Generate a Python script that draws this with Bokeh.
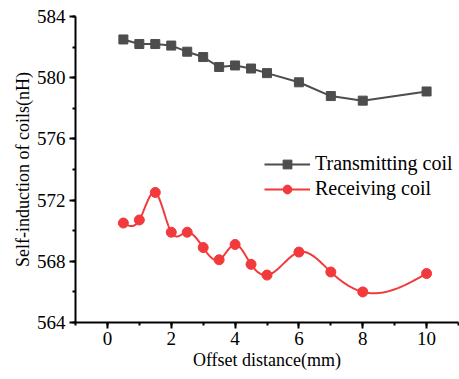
import numpy as np
from bokeh.plotting import figure
from bokeh.models import SingleIntervalTicker, Legend, LegendItem, Range1d
from bokeh.embed import file_html
from bokeh.resources import INLINE

offset = [0.5, 1, 1.5, 2, 2.5, 3, 3.5, 4, 4.5, 5, 6, 7, 8, 10]
transmitting = [582.5, 582.2, 582.2, 582.1, 581.7, 581.35, 580.7, 580.8, 580.6, 580.3, 579.7, 578.8, 578.5, 579.1]
receiving = [570.5, 570.7, 572.5, 569.9, 569.9, 568.9, 568.1, 569.1, 567.8, 567.1, 568.6, 567.3, 566.0, 567.2]

GREY = "#4d4d4d"
RED = "#f2393c"
FONT = "Liberation Serif"


def natural_spline(x, y, n=400):
    x = np.asarray(x, float)
    y = np.asarray(y, float)
    m = len(x)
    h = np.diff(x)
    A = np.zeros((m, m))
    b = np.zeros(m)
    A[0, 0] = 1
    A[-1, -1] = 1
    for i in range(1, m - 1):
        A[i, i - 1] = h[i - 1]
        A[i, i] = 2 * (h[i - 1] + h[i])
        A[i, i + 1] = h[i]
        b[i] = 3 * ((y[i + 1] - y[i]) / h[i] - (y[i] - y[i - 1]) / h[i - 1])
    c = np.linalg.solve(A, b)
    xs = np.linspace(x[0], x[-1], n)
    ys = np.empty_like(xs)
    for k, xv in enumerate(xs):
        i = min(np.searchsorted(x, xv, side="right") - 1, m - 2)
        dx = xv - x[i]
        bi = (y[i + 1] - y[i]) / h[i] - h[i] * (2 * c[i] + c[i + 1]) / 3
        di = (c[i + 1] - c[i]) / (3 * h[i])
        ys[k] = y[i] + bi * dx + c[i] * dx ** 2 + di * dx ** 3
    return xs, ys


p = figure(width=459, height=379, output_backend="svg", toolbar_location=None,
           x_range=Range1d(-1, 11), y_range=Range1d(564, 584))
p.min_border_left = 75
p.min_border_right = 1
p.min_border_top = 16
p.min_border_bottom = 57
p.outline_line_color = None
p.grid.visible = False
p.background_fill_color = "white"
p.border_fill_color = "white"

p.xaxis.ticker = SingleIntervalTicker(interval=2, num_minor_ticks=2)
p.yaxis.ticker = SingleIntervalTicker(interval=4, num_minor_ticks=2)

for ax in (p.xaxis[0], p.yaxis[0]):
    ax.axis_line_width = 2
    ax.axis_line_color = "black"
    ax.major_tick_line_width = 2
    ax.minor_tick_line_width = 2
    ax.major_tick_out = 6
    ax.major_tick_in = 0
    ax.minor_tick_out = 3
    ax.minor_tick_in = 0
    ax.major_label_text_font = FONT
    ax.major_label_text_font_size = "19px"
    ax.major_label_text_color = "black"
    ax.axis_label_text_font = FONT
    ax.axis_label_text_font_size = "18px"
    ax.axis_label_text_font_style = "normal"
    ax.axis_label_text_color = "black"

p.xaxis.axis_label = "Offset distance(mm)"
p.yaxis.axis_label = "Self-induction of coils(nH)"
p.xaxis.major_label_standoff = 3
p.xaxis.axis_label_standoff = 2
p.yaxis.major_label_standoff = 4
p.yaxis.axis_label_standoff = 1

tl = p.line(offset, transmitting, line_color=GREY, line_width=2)
tm = p.scatter(offset, transmitting, marker="square", size=9, fill_color=GREY, line_color=GREY)

sx, sy = natural_spline(offset, receiving)
rl = p.line(sx, sy, line_color=RED, line_width=2)
rm = p.scatter(offset, receiving, marker="circle", size=10, fill_color=RED, line_color=RED)

legend = Legend(items=[LegendItem(label="Transmitting coil", renderers=[tl, tm]),
                       LegendItem(label="Receiving coil", renderers=[rl, rm])],
                location=(189, 122))
legend.border_line_color = None
legend.background_fill_alpha = 0
legend.label_text_font = FONT
legend.label_text_font_size = "20px"
legend.label_text_color = "black"
legend.glyph_width = 46
legend.glyph_height = 22
legend.label_height = 22
legend.spacing = 2
legend.label_standoff = 5
legend.padding = 4
p.add_layout(legend, "center")

open("out.html", "w").write(file_html(p, INLINE))
